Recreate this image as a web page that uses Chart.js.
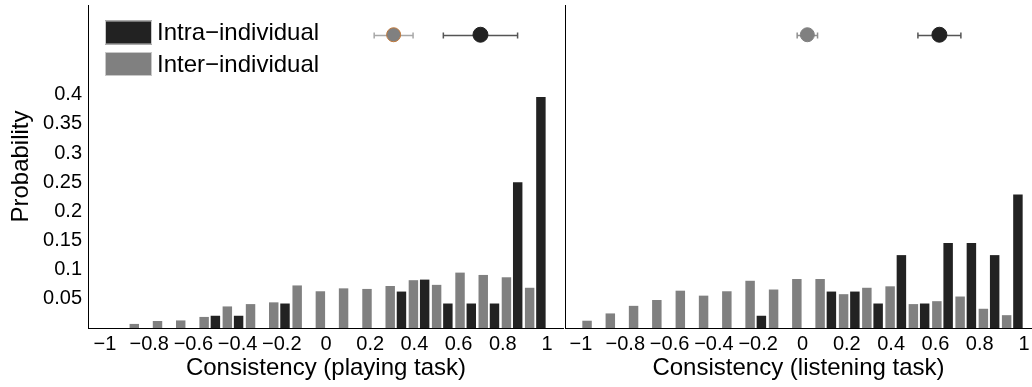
<!DOCTYPE html>
<html>
<head>
<meta charset="utf-8">
<script src="https://cdn.jsdelivr.net/npm/chart.js@4.4.1/dist/chart.umd.min.js"></script>
<style>
  html, body { margin: 0; padding: 0; background: #fff; overflow: hidden; width: 1032px; height: 387px; }
  canvas { position: absolute; top: 0; }
  #playing { left: 0; }
  #listening { left: 564px; }
</style>
</head>
<body>
<canvas id="playing" width="564" height="387"></canvas>
<canvas id="listening" width="468" height="387"></canvas>
<script>
// Histogram bin centres (19 bins spanning -1..1)
const binCenters = [-0.947, -0.842, -0.737, -0.632, -0.526, -0.421, -0.316, -0.211, -0.105, 0,
                    0.105, 0.211, 0.316, 0.421, 0.526, 0.632, 0.737, 0.842, 0.947];

// Playing task: probability per bin
const playingInter = [0, 0.007, 0.012, 0.013, 0.019, 0.037, 0.041, 0.044, 0.073, 0.063,
                      0.068, 0.067, 0.072, 0.082, 0.074, 0.095, 0.091, 0.087, 0.069];
const playingIntra = [0, 0, 0, 0, 0.021, 0.021, 0, 0.042, 0, 0,
                      0, 0, 0.0625, 0.083, 0.042, 0.042, 0.042, 0.25, 0.396];

// Listening task: probability per bin
const listeningInter = [0.0125, 0.025, 0.038, 0.048, 0.064, 0.0555, 0.063, 0.081, 0.066, 0.084,
                        0.084, 0.058, 0.069, 0.0715, 0.041, 0.046, 0.054, 0.033, 0.022];
const listeningIntra = [0, 0, 0, 0, 0, 0, 0, 0.021, 0, 0,
                        0.0625, 0.0625, 0.042, 0.125, 0.042, 0.146, 0.146, 0.125, 0.229];

// Mean and spread of consistency: [inter, intra]
const playingMean = [0.306, 0.699];
const playingSpread = [0.088, 0.168];
const listeningMean = [0.022, 0.618];
const listeningSpread = [0.046, 0.097];
const summaryLevel = 0.503;

// Axis ticks
const xTicks = [-1, -0.8, -0.6, -0.4, -0.2, 0, 0.2, 0.4, 0.6, 0.8, 1];
const yTicks = [0.05, 0.1, 0.15, 0.2, 0.25, 0.3, 0.35, 0.4];

const seriesNames = ['Inter\u2212individual', 'Intra\u2212individual'];
const interColor = '#808080';
const intraColor = '#222222';
const FONT = '"Liberation Sans", Arial, Helvetica, sans-serif';

const fmt = v => String(+(+v).toFixed(2)).replace('-', '\u2212');

// Keep the plot area fixed: no extra room reserved for edge labels
const noPadding = s => { s.paddingLeft = 0; s.paddingRight = 0; s.paddingTop = 0; s.paddingBottom = 0; };

// Mean ± spread whiskers drawn behind the summary markers
const whiskerPlugin = {
  id: 'whiskers',
  beforeDatasetsDraw(chart, args, opts) {
    const { ctx, scales: { x, y } } = chart;
    ctx.save();
    (opts.items || []).forEach(it => {
      const py = Math.round(y.getPixelForValue(it.level)) + 0.5;
      const x0 = x.getPixelForValue(it.mean - it.spread);
      const x1 = x.getPixelForValue(it.mean + it.spread);
      ctx.strokeStyle = it.color;
      ctx.lineWidth = 1.5;
      ctx.beginPath();
      ctx.moveTo(x0, py); ctx.lineTo(x1, py);
      ctx.moveTo(x0, py - 3); ctx.lineTo(x0, py + 3);
      ctx.moveTo(x1, py - 3); ctx.lineTo(x1, py + 3);
      ctx.stroke();
    });
    ctx.restore();
  }
};

// Legend block in the upper-left corner of the playing panel
const legendPlugin = {
  id: 'legendBlock',
  afterDraw(chart, args, opts) {
    if (!opts.show) return;
    const ctx = chart.ctx;
    const rows = [chart.data.datasets[1], chart.data.datasets[0]];
    ctx.save();
    ctx.font = '24px ' + FONT;
    ctx.textBaseline = 'middle';
    ctx.textAlign = 'left';
    rows.forEach((ds, i) => {
      const top = 20.5 + i * 31.5;
      ctx.fillStyle = ds.backgroundColor;
      ctx.fillRect(105, top, 47, 24);
      ctx.strokeStyle = '#c8c8c8';
      ctx.lineWidth = 1;
      ctx.strokeRect(105.5, top + 0.5, 46, 23);
      ctx.fillStyle = '#000';
      ctx.fillText(ds.label, 157, top + 13);
    });
    ctx.restore();
  }
};

function buildChart(canvasId, inter, intra, means, spreads, xMin, xMax, opts) {
  const toPoints = vals => binCenters.map((c, i) => ({ x: c, y: vals[i] }));
  return new Chart(document.getElementById(canvasId), {
    type: 'bar',
    data: {
      datasets: [
        { label: seriesNames[0], data: toPoints(inter), backgroundColor: interColor,
          borderWidth: 0, categoryPercentage: 0.97, barPercentage: 0.84 },
        { label: seriesNames[1], data: toPoints(intra), backgroundColor: intraColor,
          borderWidth: 0, categoryPercentage: 0.97, barPercentage: 0.84 },
        { type: 'scatter', data: [{ x: means[0], y: summaryLevel }],
          pointRadius: 7, pointBackgroundColor: interColor,
          pointBorderColor: opts.interMarkerEdge, pointBorderWidth: 1 },
        { type: 'scatter', data: [{ x: means[1], y: summaryLevel }],
          pointRadius: 7.5, pointBackgroundColor: intraColor,
          pointBorderColor: intraColor, pointBorderWidth: 1 }
      ]
    },
    options: {
      responsive: false,
      animation: false,
      devicePixelRatio: 1,
      layout: { autoPadding: false, padding: { top: 5, left: 0, right: 0, bottom: 0 } },
      scales: {
        x: {
          type: 'linear', min: xMin, max: xMax, offset: false,
          grid: { display: false, drawTicks: false },
          border: { display: true, color: '#000', width: 1 },
          ticks: { autoSkip: false, maxRotation: 0, minRotation: 0, padding: 4,
                   color: '#000', font: { family: FONT, size: 20 }, callback: v => fmt(v) },
          afterBuildTicks: s => { s.ticks = xTicks.map(v => ({ value: v })); },
          afterFit: s => { s.height = 59; noPadding(s); },
          title: { display: true, text: opts.xTitle, color: '#000',
                   font: { family: FONT, size: 24 }, padding: { top: 0, bottom: 4 } }
        },
        y: {
          min: 0, max: 0.554,
          grid: { display: false, drawTicks: false },
          border: { display: true, color: '#000', width: 1 },
          ticks: { display: opts.yLabels, padding: 6, color: '#000',
                   font: { family: FONT, size: 20 }, callback: v => fmt(v) },
          afterBuildTicks: s => { s.ticks = yTicks.map(v => ({ value: v })); },
          afterFit: s => { s.width = opts.yWidth; noPadding(s); },
          title: { display: opts.yLabels, text: 'Probability', color: '#000',
                   font: { family: FONT, size: 24 }, padding: { top: 7, bottom: 0 } }
        }
      },
      plugins: {
        legend: { display: false },
        tooltip: { enabled: false },
        legendBlock: { show: opts.legend },
        whiskers: {
          items: [
            { mean: means[0], spread: spreads[0], level: summaryLevel, color: opts.interWhisker },
            { mean: means[1], spread: spreads[1], level: summaryLevel, color: '#555555' }
          ]
        }
      }
    },
    plugins: [whiskerPlugin, legendPlugin]
  });
}

buildChart('playing', playingInter, playingIntra, playingMean, playingSpread, -1.077, 1.077, {
  xTitle: 'Consistency (playing task)', yLabels: true, yWidth: 88, legend: true,
  interMarkerEdge: '#c0783a', interWhisker: '#a8a8a8'
});

buildChart('listening', listeningInter, listeningIntra, listeningMean, listeningSpread, -1.072, 1.036, {
  xTitle: 'Consistency (listening task)', yLabels: false, yWidth: 1, legend: false,
  interMarkerEdge: interColor, interWhisker: '#909090'
});
</script>
</body>
</html>
